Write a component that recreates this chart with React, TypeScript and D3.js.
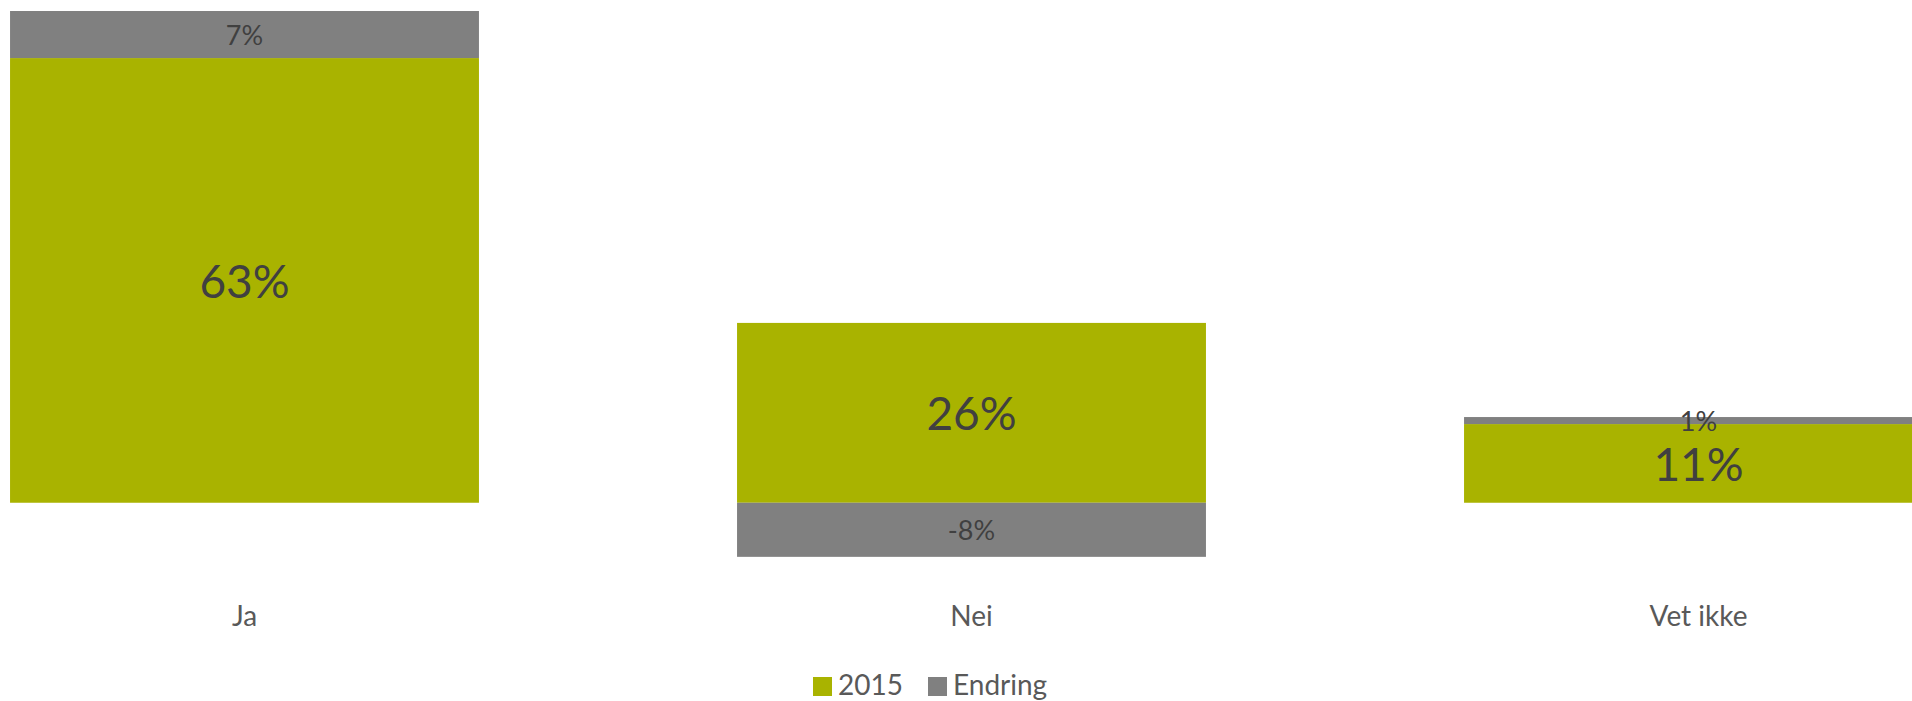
import * as d3 from "d3"
import { useRef, useEffect } from "react"

const categories = ["Ja", "Nei", "Vet ikke"]
const seriesNames = ["2015", "Endring"]
const values2015 = [63.3, 25.6, 11.2]
const valuesEndring = [6.7, -7.7, 1.0]
const seriesColors = ["#A9B300", "#808080"]

type Row = { category: string; [key: string]: string | number }

export default function App() {
  const svgRef = useRef<SVGSVGElement>(null)

  useEffect(() => {
    if (!svgRef.current) return
    const width = 1912
    const height = 701
    const font = "Lato, 'Open Sans', sans-serif"

    const svg = d3.select(svgRef.current)
    svg.selectAll("*").remove()
    svg.attr("width", width).attr("height", height)

    const rows: Row[] = categories.map((c, i) => ({
      category: c,
      "2015": values2015[i],
      Endring: valuesEndring[i],
    }))

    const stacked = d3
      .stack<Row>()
      .keys(seriesNames)
      .value((d, key) => d[key] as number)
      .offset(d3.stackOffsetDiverging)(rows)

    const xScale = d3
      .scaleBand()
      .domain(categories)
      .range([-119, 2062])
      .paddingInner(0.355)
      .paddingOuter(0.1775)

    const yScale = d3.scaleLinear().domain([-10, 70]).range([573, 11])

    // plain hyphen for negatives, like the original
    const pct = d3.formatLocale({
      decimal: ",",
      thousands: " ",
      grouping: [3],
      currency: ["", " kr"],
      minus: "-",
    }).format(".0f")
    const fmt = (v: number) => `${pct(v)}%`

    stacked.forEach((layer, si) => {
      const g = svg.append("g")
      g.selectAll("rect")
        .data(layer)
        .enter()
        .append("rect")
        .attr("x", (d) => xScale(d.data.category) || 0)
        .attr("width", xScale.bandwidth())
        .attr("y", (d) => yScale(Math.max(d[0], d[1])))
        .attr("height", (d) => Math.abs(yScale(d[0]) - yScale(d[1])))
        .attr("fill", seriesColors[si])

      g.selectAll("text")
        .data(layer)
        .enter()
        .append("text")
        .attr("x", (d) => (xScale(d.data.category) || 0) + xScale.bandwidth() / 2)
        .attr("y", (d) => (yScale(d[0]) + yScale(d[1])) / 2)
        .attr("text-anchor", "middle")
        .attr("dominant-baseline", "central")
        .style("font-family", font)
        .style("font-size", si === 0 ? "46px" : "27px")
        .style("fill", "#404040")
        .text((d) => fmt(d.data[seriesNames[si]] as number))
    })

    // category labels
    svg
      .append("g")
      .selectAll("text")
      .data(categories)
      .enter()
      .append("text")
      .attr("x", (d) => (xScale(d) || 0) + xScale.bandwidth() / 2)
      .attr("y", 626)
      .attr("text-anchor", "middle")
      .style("font-family", font)
      .style("font-size", "28px")
      .style("fill", "#595959")
      .text((d) => d)

    // legend
    const legendX = [813, 928]
    const legend = svg
      .append("g")
      .selectAll("g")
      .data(seriesNames)
      .enter()
      .append("g")
      .attr("transform", (_, i) => `translate(${legendX[i]},0)`)
    legend
      .append("rect")
      .attr("y", 677)
      .attr("width", 19)
      .attr("height", 19)
      .attr("fill", (_, i) => seriesColors[i])
    legend
      .append("text")
      .attr("x", 25)
      .attr("y", 695)
      .style("font-family", font)
      .style("font-size", "28px")
      .style("fill", "#595959")
      .text((d) => d)
  }, [])

  return (
    <div style={{ position: "absolute", left: 0, top: 0, width: 1912, height: 701, background: "#fff" }}>
      <svg ref={svgRef}></svg>
    </div>
  )
}
